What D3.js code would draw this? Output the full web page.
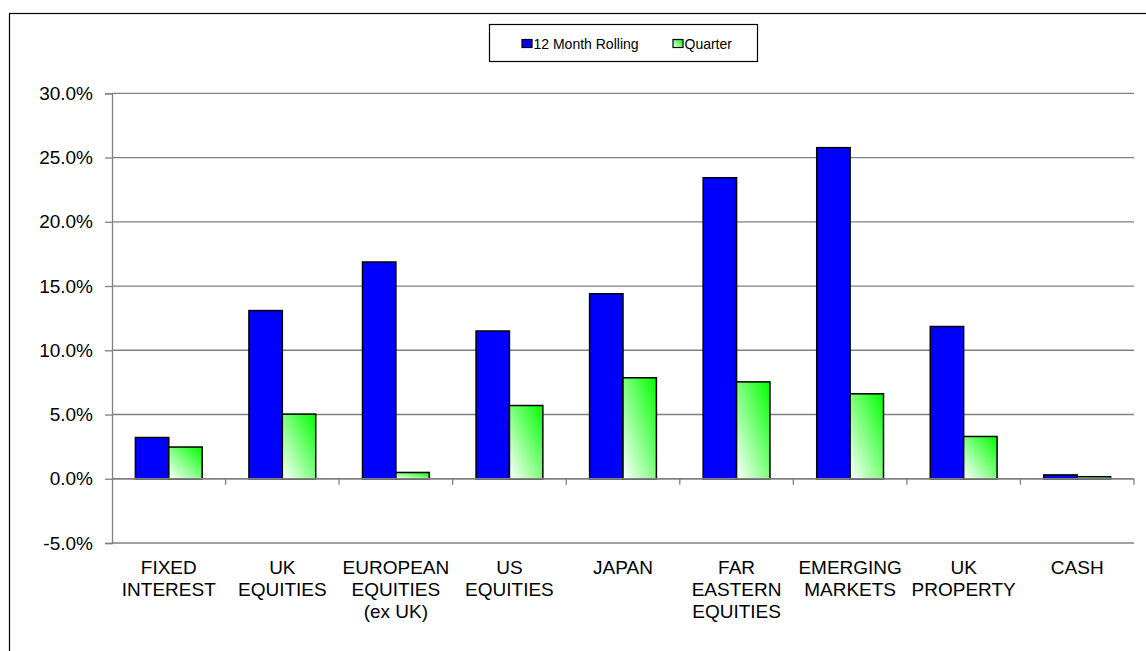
<!DOCTYPE html>
<html>
<head>
<meta charset="utf-8">
<script src="https://cdn.jsdelivr.net/npm/d3@7"></script>
<style>
  body { margin: 0; background: #fff; }
  text { font-family: "Liberation Sans", Arial, sans-serif; fill: #000; }
</style>
</head>
<body>
<script>
// data
const categories = ["FIXED INTEREST", "UK EQUITIES", "EUROPEAN EQUITIES (ex UK)", "US EQUITIES",
  "JAPAN", "FAR EASTERN EQUITIES", "EMERGING MARKETS", "UK PROPERTY", "CASH"];
const categoryLines = [["FIXED", "INTEREST"], ["UK", "EQUITIES"], ["EUROPEAN", "EQUITIES", "(ex UK)"],
  ["US", "EQUITIES"], ["JAPAN"], ["FAR", "EASTERN", "EQUITIES"], ["EMERGING", "MARKETS"],
  ["UK", "PROPERTY"], ["CASH"]];
const seriesNames = ["12 Month Rolling", "Quarter"];
const rolling12 = [3.21, 13.09, 16.87, 11.5, 14.4, 23.43, 25.77, 11.85, 0.3];
const quarter = [2.47, 5.03, 0.49, 5.7, 7.86, 7.54, 6.61, 3.29, 0.16];
const yTicks = [-5, 0, 5, 10, 15, 20, 25, 30];

const width = 1146, height = 651;
const svg = d3.select("body").append("svg")
  .attr("width", width)
  .attr("height", height);

// gradient for the quarter bars
const grad = svg.append("defs").append("linearGradient")
  .attr("id", "greenGrad")
  .attr("x1", 0).attr("y1", 1).attr("x2", 1).attr("y2", 0);
grad.append("stop").attr("offset", "0%").attr("stop-color", "#ffffff");
grad.append("stop").attr("offset", "100%").attr("stop-color", "#00ff00");

// outer frame (right and bottom run off the picture)
svg.append("rect")
  .attr("x", 9.5).attr("y", 13.5)
  .attr("width", 1160).attr("height", 700)
  .attr("fill", "none").attr("stroke", "#000").attr("stroke-width", 1.2);

const left = 112, right = 1134;
const y = d3.scaleLinear().domain([-5, 30]).range([543, 93.3]);
const x0 = d3.scaleBand().domain(categories).range([left, right]).padding(0);
const x1 = d3.scaleBand().domain(seriesNames).range([0, x0.bandwidth()])
  .paddingInner(0).paddingOuter(0.7);

// gridlines
svg.append("g").selectAll("line")
  .data(yTicks)
  .join("line")
  .attr("x1", left).attr("x2", right)
  .attr("y1", d => y(d)).attr("y2", d => y(d))
  .attr("stroke", "#808080").attr("stroke-width", 1.3);

// y axis
const yAxis = svg.append("g")
  .attr("transform", `translate(${left},0)`)
  .call(d3.axisLeft(y).tickValues(yTicks).tickSize(7).tickPadding(12)
    .tickFormat(d => d.toFixed(1) + "%"));
yAxis.select(".domain").attr("stroke", "#808080").attr("stroke-width", 1.3);
yAxis.selectAll(".tick line").attr("stroke", "#808080").attr("stroke-width", 1.3);
yAxis.selectAll(".tick text")
  .attr("font-size", 19)
  .attr("font-family", "Liberation Sans, Arial, sans-serif");

// bars
const rows = categories.map((c, i) => ({ cat: c, vals: [rolling12[i], quarter[i]] }));
const groups = svg.append("g").selectAll("g")
  .data(rows)
  .join("g")
  .attr("transform", d => `translate(${x0(d.cat)},0)`);

groups.selectAll("rect")
  .data(d => d.vals.map((v, j) => ({ key: seriesNames[j], v: v })))
  .join("rect")
  .attr("x", d => x1(d.key))
  .attr("width", x1.bandwidth())
  .attr("y", d => y(Math.max(0, d.v)))
  .attr("height", d => Math.abs(y(d.v) - y(0)))
  .attr("fill", d => d.key === seriesNames[0] ? "#0000ff" : "url(#greenGrad)")
  .attr("stroke", "#000")
  .attr("stroke-width", 1.5);

// x axis on zero line with tick marks at band edges
svg.append("line")
  .attr("x1", left).attr("x2", right)
  .attr("y1", y(0)).attr("y2", y(0))
  .attr("stroke", "#808080").attr("stroke-width", 1.3);
const edges = categories.map(c => x0(c)).concat([right]);
svg.append("g").selectAll("line")
  .data(edges.slice(1))
  .join("line")
  .attr("x1", d => d).attr("x2", d => d)
  .attr("y1", y(0)).attr("y2", y(0) + 6)
  .attr("stroke", "#808080").attr("stroke-width", 1.3);

// category labels
const labels = svg.append("g").selectAll("text")
  .data(categories)
  .join("text")
  .attr("text-anchor", "middle")
  .attr("font-size", 19)
  .attr("x", d => x0(d) + x0.bandwidth() / 2)
  .attr("y", 574);
labels.selectAll("tspan")
  .data((d, i) => categoryLines[i])
  .join("tspan")
  .attr("x", function () { return d3.select(this.parentNode).attr("x"); })
  .attr("dy", (d, i) => i === 0 ? 0 : 22)
  .text(d => d);

// legend
const legend = svg.append("g");
legend.append("rect")
  .attr("x", 489.5).attr("y", 24.5)
  .attr("width", 268).attr("height", 37)
  .attr("fill", "#fff").attr("stroke", "#000").attr("stroke-width", 1.2);
const legendX = [522, 673];
seriesNames.forEach((s, i) => {
  legend.append("rect")
    .attr("x", legendX[i]).attr("y", 39.5)
    .attr("width", 10).attr("height", 8)
    .attr("fill", i === 0 ? "#0000ff" : "url(#greenGrad)")
    .attr("stroke", "#000").attr("stroke-width", 1.2);
  legend.append("text")
    .attr("x", legendX[i] + 11.5).attr("y", 48.5)
    .attr("font-size", 14)
    .text(s);
});
</script>
</body>
</html>
